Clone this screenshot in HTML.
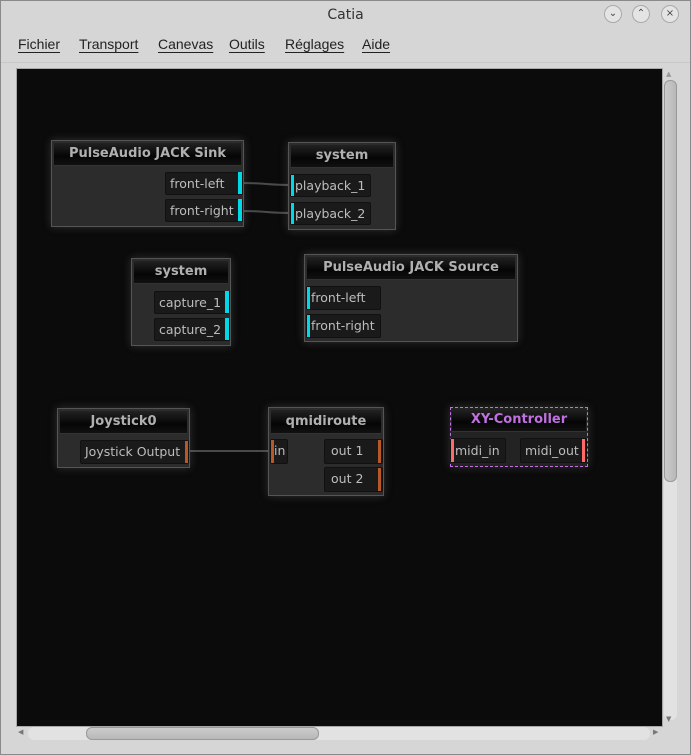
<!DOCTYPE html>
<html><head><meta charset="utf-8"><style>
*{margin:0;padding:0;box-sizing:border-box}
body{width:691px;height:755px;background:#d6d6d6;font-family:"DejaVu Sans","Liberation Sans",sans-serif;position:relative;overflow:hidden;box-shadow:inset 0 0 0 1px #8a8a8a}
.a{position:absolute}
.title{left:0;width:691px;top:7px;text-align:center;font-size:14px;color:#333}
.btn{width:18px;height:18px;border-radius:50%;border:1px solid #aaa;background:#e4e4e4;top:5px;font-size:10px;line-height:16px;text-align:center;color:#444}
.menu{top:36px;font-size:14px;color:#222;font-family:"Liberation Sans",sans-serif}
.menu span{position:absolute;text-decoration:underline;text-decoration-thickness:1px;text-underline-offset:3px}
#cv{left:16px;top:68px;width:647px;height:659px;background:#0b0b0b;border:1px solid #a9a9a9}
.box{background:#2c2c2c;border:1px solid #555;box-shadow:0 0 8px rgba(120,120,120,.35)}
.hd{background:linear-gradient(#222,#050505 60%,#111);border-bottom:1px solid #333;color:#b0b0b0;font-weight:bold;font-size:13px;text-align:center}
.p{background:#1a1a1a;border:1px solid #111;border-radius:2px;color:#bdbdbd;font-size:12.5px;line-height:21px;padding:0 4px;white-space:nowrap}
.cy{background:#00d8e8}
.or{background:#b5592a}
.rd{background:#ff6b6b}
</style></head><body>
<div class="a title">Catia</div>
<div class="a btn" style="left:604px">&#8964;</div>
<div class="a btn" style="left:632px">&#8963;</div>
<div class="a btn" style="left:661px">&#215;</div>
<div class="a menu" style="left:0;width:691px;height:20px">
<span style="left:18px">Fichier</span><span style="left:79px">Transport</span><span style="left:158px">Canevas</span><span style="left:229px">Outils</span><span style="left:285px">Réglages</span><span style="left:362px">Aide</span></div>
<div class="a" style="left:1px;top:62px;width:689px;height:1px;background:#c8c8c8"></div>
<div class="a" id="cv"></div>
<!-- scrollbars -->
<div class="a" style="left:664px;top:80px;width:13px;height:640px;border-radius:6px;background:#e2e2e2"></div>
<div class="a" style="left:664px;top:80px;width:13px;height:402px;border-radius:6px;background:linear-gradient(90deg,#ccc,#b8b8b8);border:1px solid #999"></div>
<div class="a" style="left:666px;top:70px;font-size:7px;color:#999">▲</div>
<div class="a" style="left:666px;top:715px;font-size:7px;color:#777">▼</div>
<div class="a" style="left:28px;top:727px;width:622px;height:13px;border-radius:6px;background:#e2e2e2"></div>
<div class="a" style="left:86px;top:727px;width:233px;height:13px;border-radius:6px;background:linear-gradient(#ccc,#b8b8b8);border:1px solid #999"></div>
<div class="a" style="left:18px;top:728px;font-size:7px;color:#777">◀</div>
<div class="a" style="left:653px;top:728px;font-size:7px;color:#777">▶</div>

<svg class="a" style="left:0;top:0" width="691" height="755">
<g stroke="#4a4a4a" stroke-width="2" fill="none">
<path d="M242 183 C265 183 268 185 291 185"/>
<path d="M242 211 C265 211 268 213 291 213"/>
<path d="M188 451 L271 451"/>
</g></svg>

<!-- PA Sink -->
<div class="a box" style="left:51px;top:140px;width:193px;height:87px"></div>
<div class="a hd" style="left:54px;top:143px;width:187px;height:23px;line-height:22px">PulseAudio JACK Sink</div>
<div class="a p" style="left:165px;top:172px;width:78px;height:23px">front-left</div>
<div class="a cy" style="left:238px;top:172px;width:4px;height:22px"></div>
<div class="a p" style="left:165px;top:199px;width:78px;height:23px">front-right</div>
<div class="a cy" style="left:238px;top:199px;width:4px;height:22px"></div>
<!-- system playback -->
<div class="a box" style="left:288px;top:142px;width:108px;height:88px"></div>
<div class="a hd" style="left:291px;top:145px;width:102px;height:23px;line-height:22px">system</div>
<div class="a p" style="left:290px;top:174px;width:81px;height:23px">playback_1</div>
<div class="a cy" style="left:291px;top:175px;width:3px;height:21px"></div>
<div class="a p" style="left:290px;top:202px;width:81px;height:23px">playback_2</div>
<div class="a cy" style="left:291px;top:203px;width:3px;height:21px"></div>
<!-- system capture -->
<div class="a box" style="left:131px;top:258px;width:100px;height:88px"></div>
<div class="a hd" style="left:134px;top:261px;width:94px;height:23px;line-height:22px">system</div>
<div class="a p" style="left:154px;top:291px;width:76px;height:23px">capture_1</div>
<div class="a cy" style="left:225px;top:291px;width:4px;height:22px"></div>
<div class="a p" style="left:154px;top:318px;width:76px;height:23px">capture_2</div>
<div class="a cy" style="left:225px;top:318px;width:4px;height:22px"></div>
<!-- PA Source -->
<div class="a box" style="left:304px;top:254px;width:214px;height:88px"></div>
<div class="a hd" style="left:307px;top:257px;width:208px;height:23px;line-height:22px">PulseAudio JACK Source</div>
<div class="a p" style="left:306px;top:286px;width:75px;height:24px">front-left</div>
<div class="a cy" style="left:307px;top:287px;width:3px;height:22px"></div>
<div class="a p" style="left:306px;top:314px;width:75px;height:24px">front-right</div>
<div class="a cy" style="left:307px;top:315px;width:3px;height:22px"></div>
<!-- Joystick0 -->
<div class="a box" style="left:57px;top:408px;width:133px;height:60px"></div>
<div class="a hd" style="left:60px;top:411px;width:127px;height:23px;line-height:22px">Joystick0</div>
<div class="a p" style="left:80px;top:440px;width:109px;height:24px">Joystick Output</div>
<div class="a or" style="left:185px;top:441px;width:3px;height:22px"></div>
<!-- qmidiroute -->
<div class="a box" style="left:268px;top:407px;width:116px;height:89px"></div>
<div class="a hd" style="left:271px;top:410px;width:110px;height:24px;line-height:23px">qmidiroute</div>
<div class="a p" style="left:270px;top:439px;width:18px;height:25px;padding:0 0 0 3px">in</div>
<div class="a or" style="left:271px;top:440px;width:3px;height:23px"></div>
<div class="a p" style="left:324px;top:439px;width:59px;height:25px;padding-left:6px">out 1</div>
<div class="a or" style="left:378px;top:440px;width:3px;height:23px"></div>
<div class="a p" style="left:324px;top:467px;width:59px;height:25px;padding-left:6px">out 2</div>
<div class="a or" style="left:378px;top:468px;width:3px;height:23px"></div>
<!-- XY-Controller -->
<div class="a box" style="left:450px;top:407px;width:138px;height:60px;border:1px dashed #c070e0;background:#232323"></div>
<div class="a hd" style="left:452px;top:409px;width:134px;height:23px;line-height:22px;color:#c070e0">XY-Controller</div>
<div class="a p" style="left:450px;top:438px;width:56px;height:25px;line-height:23px">midi_in</div>
<div class="a rd" style="left:451px;top:439px;width:3px;height:23px"></div>
<div class="a p" style="left:520px;top:438px;width:67px;height:25px;line-height:23px">midi_out</div>
<div class="a rd" style="left:582px;top:439px;width:3px;height:23px"></div>
</body></html>
